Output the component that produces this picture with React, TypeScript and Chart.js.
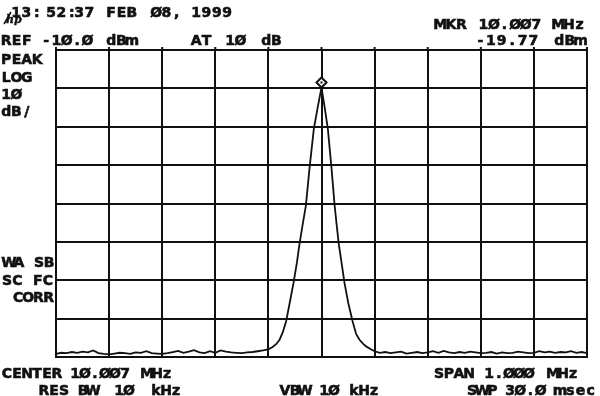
import React, { useEffect, useRef } from "react";
import { Chart, registerables } from "chart.js";

Chart.register(...registerables);

// ---- instrument settings ----
const CENTER_MHZ = 10.007;
const SPAN_MHZ = 1.0;
const REF_DBM = -10;
const DB_PER_DIV = 10;
const H_DIVS = 10;
const V_DIVS = 8;
const MKR_FREQ = 10.007;
const MKR_LEVEL = -19.77;

// ---- trace data (MHz, dBm) ----
const noiseLeftFreq = [
  9.507, 9.517, 9.527, 9.537, 9.547, 9.557, 9.567, 9.577, 9.587, 9.597,
  9.607, 9.617, 9.627, 9.637, 9.647, 9.657, 9.667, 9.677, 9.687, 9.697,
  9.707, 9.717, 9.727, 9.737, 9.747, 9.757, 9.767, 9.777, 9.787, 9.797,
  9.807, 9.817, 9.827, 9.837, 9.847, 9.857, 9.867, 9.877, 9.887, 9.897,
];
const noiseLeftLevel = [
  -89.2, -88.9, -89.0, -88.7, -88.9, -88.6, -88.8, -88.3, -89.0, -89.2,
  -89.3, -89.1, -88.9, -89.0, -89.2, -88.8, -88.9, -88.5, -89.0, -89.1,
  -89.2, -89.0, -88.7, -88.4, -88.9, -88.6, -88.2, -88.8, -89.0, -88.5,
  -88.9, -88.3, -88.6, -88.8, -88.9, -89.0, -88.8, -88.7, -88.5, -88.3,
];
const peakFreq = [
  9.907, 9.915, 9.922, 9.928, 9.934, 9.9405, 9.947, 9.9543, 9.9606, 9.9656,
  9.9715, 9.9775, 9.9845, 9.9925, 10.0, 10.007, 10.0128, 10.019, 10.0258,
  10.0318, 10.0355, 10.0395, 10.0448, 10.0503, 10.0575, 10.0654, 10.0722,
  10.0786, 10.0855, 10.0917, 10.1, 10.107,
];
const peakLevel = [
  -88.0, -87.4, -86.6, -85.5, -83.6, -80.6, -76.0, -70.7, -65.5, -60.5,
  -55.5, -50.6, -40.7, -30.6, -24.8, -19.77, -24.8, -30.6, -40.7,
  -50.6, -55.5, -60.5, -65.5, -70.7, -76.0, -80.6, -84.0,
  -85.5, -86.6, -87.3, -88.0, -88.5,
];
const noiseRightFreq = [
  10.117, 10.127, 10.137, 10.147, 10.157, 10.167, 10.177, 10.187, 10.197, 10.207,
  10.217, 10.227, 10.237, 10.247, 10.257, 10.267, 10.277, 10.287, 10.297, 10.307,
  10.317, 10.327, 10.337, 10.347, 10.357, 10.367, 10.377, 10.387, 10.397, 10.407,
  10.417, 10.427, 10.437, 10.447, 10.457, 10.467, 10.477, 10.487, 10.497, 10.507,
];
const noiseRightLevel = [
  -88.9, -88.7, -89.0, -88.8, -88.6, -89.1, -88.9, -88.7, -89.0, -88.8,
  -88.5, -88.9, -88.4, -88.8, -89.0, -88.7, -88.9, -88.6, -88.8, -89.0,
  -88.9, -88.7, -89.1, -88.8, -89.0, -88.9, -88.6, -88.8, -89.0, -88.9,
  -88.5, -88.8, -88.6, -88.9, -88.7, -88.8, -88.5, -88.9, -88.7, -89.0,
];

// ---- annotation text ----
const textTime = ["13:", "52:", "37"];
const textDate = ["FEB", "Ø8,", "1999"];
const textRef = ["REF", "-1Ø.Ø", "dBm"];
const textAtten = ["AT", "1Ø", "dB"];
const textMkrFreq = ["MKR", "1Ø.ØØ7", "MHz"];
const textMkrLevel = ["-19.77", "dBm"];
const textModes = ["PEAK", "LOG", "1Ø", "dB/"];
const textCorr = ["WA SB", "SC FC", "CORR"];
const textCenter = ["CENTER", "1Ø.ØØ7", "MHz"];
const textRbw = ["RES", "BW", "1Ø", "kHz"];
const textVbw = ["VBW", "1Ø", "kHz"];
const textSpan = ["SPAN", "1.ØØØ", "MHz"];
const textSwp = ["SWP", "3Ø.Ø", "msec"];

const INK = "#111";

function cells(ctx: CanvasRenderingContext2D, s: string, x: number, y: number, cell: number) {
  ctx.textAlign = "center";
  for (let i = 0; i < s.length; i++) {
    const cx = x + i * cell + cell / 2;
    ctx.fillText(s[i], cx, y);
    ctx.strokeText(s[i], cx, y);
  }
}

function words(ctx: CanvasRenderingContext2D, list: string[], xs: number[], y: number, cell: number) {
  list.forEach((w, i) => cells(ctx, w, xs[i], y, cell));
}

const overlayPlugin = {
  id: "overlay",
  beforeDraw(chart: any) {
    const ctx = chart.ctx;
    ctx.save();
    ctx.fillStyle = "#fff";
    ctx.fillRect(0, 0, chart.width, chart.height);
    ctx.restore();
  },
  afterDraw(chart: any) {
    const ctx: CanvasRenderingContext2D = chart.ctx;
    const xs = chart.scales.x;
    const ys = chart.scales.y;
    const area = chart.chartArea;
    ctx.save();
    // small tick stubs above top border
    ctx.strokeStyle = INK;
    ctx.lineWidth = 2;
    for (let i = 0; i <= H_DIVS; i++) {
      const px = xs.getPixelForValue(CENTER_MHZ - SPAN_MHZ / 2 + (i * SPAN_MHZ) / H_DIVS);
      ctx.beginPath();
      ctx.moveTo(px, area.top - 3);
      ctx.lineTo(px, area.top);
      ctx.stroke();
    }
    // marker diamond
    const mx = xs.getPixelForValue(MKR_FREQ);
    const my = ys.getPixelForValue(MKR_LEVEL) - 5;
    ctx.lineWidth = 2;
    ctx.beginPath();
    ctx.moveTo(mx, my - 5);
    ctx.lineTo(mx + 5, my);
    ctx.lineTo(mx, my + 5);
    ctx.lineTo(mx - 5, my);
    ctx.closePath();
    ctx.fillStyle = "#fff";
    ctx.fill();
    ctx.stroke();
    ctx.fillStyle = INK;
    ctx.fillRect(mx - 1, my - 1, 2, 2);

    // text
    ctx.fillStyle = INK;
    ctx.strokeStyle = INK;
    ctx.lineWidth = 0.6;
    ctx.textBaseline = "alphabetic";
    ctx.font = "bold 14px 'DejaVu Sans'";
    const c = 10.3;
    words(ctx, textTime, [11, 46, 74], 17, c);
    words(ctx, textDate, [106, 151, 191], 17, c);
    words(ctx, textRef, [1, 41, 106], 45, c);
    words(ctx, textAtten, [191, 225, 261], 45, c);
    words(ctx, textMkrFreq, [435, 478, 553], 29, 10.6);
    words(ctx, textMkrLevel, [475, 554], 45, 10.6);
    [64, 82, 99, 116].forEach((y, i) => cells(ctx, textModes[i], 1, y, c));
    cells(ctx, textCorr[0], 4, 267, 10.0);
    cells(ctx, textCorr[1], 2, 285, 10.2);
    cells(ctx, textCorr[2], 13, 302, 10.2);
    words(ctx, textCenter, [2, 70, 142], 378, 10.0);
    words(ctx, textRbw, [39, 78, 114, 151], 395, 10.0);
    words(ctx, textVbw, [280, 319, 349], 395, 10.0);
    words(ctx, textSpan, [434, 484, 548], 378, 10.0);
    words(ctx, textSwp, [467, 505, 555], 395, 10.2);

    // hp logo
    ctx.font = "italic bold 11px 'DejaVu Serif'";
    ctx.textAlign = "left";
    ctx.lineWidth = 0.4;
    ctx.fillText("hp", 6, 23);
    ctx.strokeText("hp", 6, 23);
    ctx.lineWidth = 1.5;
    ctx.beginPath();
    ctx.moveTo(4, 24);
    ctx.lineTo(11, 12);
    ctx.stroke();
    ctx.restore();
  },
};

export default function App() {
  const ref = useRef<HTMLCanvasElement | null>(null);
  useEffect(() => {
    document.body.style.margin = "0";
    if (!ref.current) return;
    const pts: { x: number; y: number }[] = [];
    noiseLeftFreq.forEach((f, i) => pts.push({ x: f, y: noiseLeftLevel[i] }));
    peakFreq.forEach((f, i) => pts.push({ x: f, y: peakLevel[i] }));
    noiseRightFreq.forEach((f, i) => pts.push({ x: f, y: noiseRightLevel[i] }));

    const fMin = CENTER_MHZ - SPAN_MHZ / 2;
    const fMax = CENTER_MHZ + SPAN_MHZ / 2;
    const yMax = REF_DBM;
    const yMin = REF_DBM - DB_PER_DIV * V_DIVS;

    const chart = new Chart(ref.current, {
      type: "line",
      data: {
        datasets: [
          {
            data: pts,
            borderColor: INK,
            borderWidth: 1.8,
            pointRadius: 0,
            tension: 0,
            fill: false,
          },
        ],
      },
      options: {
        animation: false,
        responsive: false,
        devicePixelRatio: 1,
        layout: { padding: { left: 56, right: 13, top: 50, bottom: 39 } },
        plugins: { legend: { display: false }, tooltip: { enabled: false } },
        scales: {
          x: {
            type: "linear",
            min: fMin,
            max: fMax,
            afterBuildTicks: (scale: any) => {
              const t = [];
              for (let i = 0; i <= H_DIVS; i++) t.push({ value: fMin + (i * SPAN_MHZ) / H_DIVS });
              scale.ticks = t;
            },
            ticks: { display: false },
            grid: { color: INK, lineWidth: 2, drawTicks: false },
            border: { display: true, color: INK, width: 2 },
          },
          y: {
            type: "linear",
            min: yMin,
            max: yMax,
            ticks: { display: false, stepSize: DB_PER_DIV },
            grid: { color: INK, lineWidth: 2, drawTicks: false },
            border: { display: true, color: INK, width: 2 },
          },
        },
      },
      plugins: [overlayPlugin],
    });
    return () => chart.destroy();
  }, []);
  return (
    <div style={{ position: "fixed", left: 0, top: 0, width: 600, height: 396, background: "#fff" }}>
      <canvas ref={ref} width={600} height={396} />
    </div>
  );
}
